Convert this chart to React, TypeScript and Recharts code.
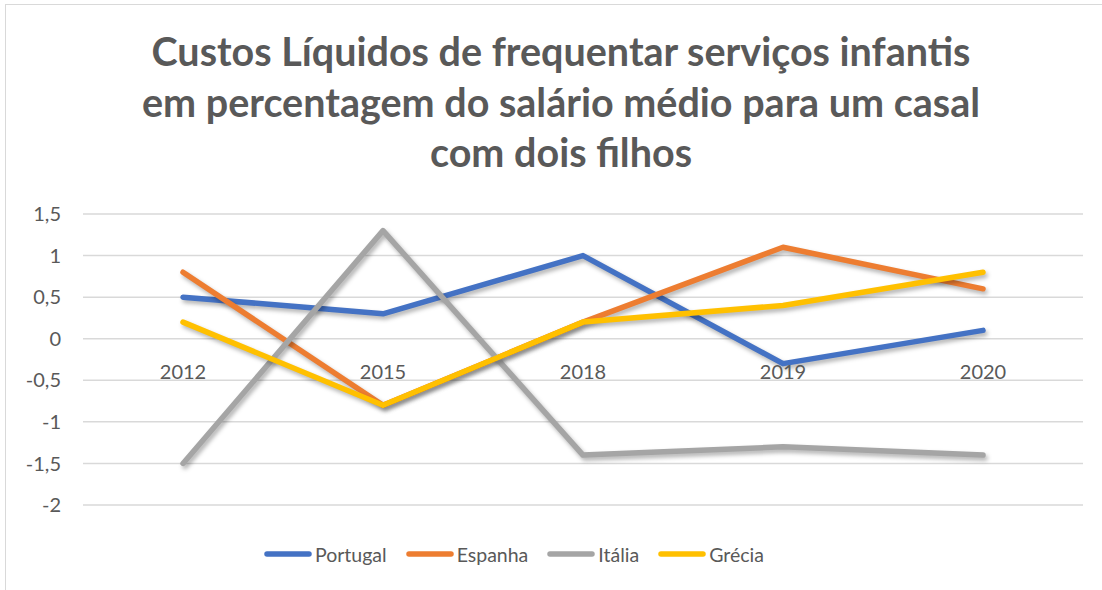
import React from 'react';
import { LineChart, Line, XAxis, YAxis, CartesianGrid } from 'recharts';

const categories = ['2012', '2015', '2018', '2019', '2020'];
const portugal = [0.5, 0.3, 1.0, -0.3, 0.1];
const espanha = [0.8, -0.8, 0.2, 1.1, 0.6];
const italia = [-1.5, 1.3, -1.4, -1.3, -1.4];
const grecia = [0.2, -0.8, 0.2, 0.4, 0.8];
const yTicks = [-2, -1.5, -1, -0.5, 0, 0.5, 1, 1.5];

const series = [
  { key: 'portugal', name: 'Portugal', color: '#4472C4' },
  { key: 'espanha', name: 'Espanha', color: '#ED7D31' },
  { key: 'italia', name: 'Itália', color: '#A5A5A5' },
  { key: 'grecia', name: 'Grécia', color: '#FFC000' },
];

const data = categories.map((year, i) => ({
  year,
  portugal: portugal[i],
  espanha: espanha[i],
  italia: italia[i],
  grecia: grecia[i],
}));

const W = 1102;
const H = 590;
const PLOT_TOP = 214;
const PLOT_BOTTOM = 505;
const PLOT_LEFT = 83;
const PLOT_RIGHT = 1083;
const X_AXIS_H = 30;
const Y_MIN = -2;
const Y_MAX = 1.5;
const TEXT = '#595959';
const FONT = 'Lato, "Open Sans", sans-serif';

// Excel draws the category labels next to the horizontal axis, which crosses at 0
const zeroShift = ((PLOT_BOTTOM - PLOT_TOP) * (0 - Y_MIN)) / (Y_MAX - Y_MIN);

const CategoryTick = ({ x, payload }: any) => (
  <text x={x} y={PLOT_BOTTOM - zeroShift + 32} textAnchor="middle" dominantBaseline="central"
    fill={TEXT} fontSize={20} fontFamily={FONT}>
    {payload.value}
  </text>
);

const LegendRow = () => (
  <div style={{ position: 'absolute', left: 264, top: 541, height: 26, display: 'flex', alignItems: 'center',
    fontFamily: FONT, fontSize: 19.5, color: TEXT, whiteSpace: 'nowrap' }}>
    {series.map((s) => (
      <div key={s.key} style={{ display: 'flex', alignItems: 'center', marginRight: 19 }}>
        <svg width={48} height={10} style={{ marginRight: 3 }}>
          <line x1={3} y1={5} x2={45} y2={5} stroke={s.color} strokeWidth={5.5} strokeLinecap="round" />
        </svg>
        <span>{s.name}</span>
      </div>
    ))}
  </div>
);

export default function App() {
  return (
    <div style={{ position: 'absolute', left: 0, top: 0, width: W, height: H, overflow: 'hidden', background: '#fff' }}>
      <style>{`.recharts-line-curve { filter: drop-shadow(2px 3px 2px rgba(0,0,0,0.3)); }`}</style>
      <div style={{ position: 'absolute', left: 5, top: 4, width: W + 20, height: H + 20, border: '1.5px solid #d9d9d9' }} />
      <div style={{ position: 'absolute', left: 11, top: 26, width: W - 2, textAlign: 'center',
        fontFamily: FONT, fontWeight: 700, fontSize: 39.5, lineHeight: '50.5px', color: TEXT }}>
        Custos Líquidos de frequentar serviços infantis<br />
        em percentagem do salário médio para um casal<br />
        com dois filhos
      </div>
      <div style={{ position: 'absolute', left: 0, top: 0 }}>
        <LineChart width={W} height={H} data={data}
          margin={{ top: PLOT_TOP, right: W - PLOT_RIGHT, bottom: H - PLOT_BOTTOM - X_AXIS_H, left: PLOT_LEFT - 60 }}>
          <CartesianGrid vertical={false} stroke="#d9d9d9" strokeWidth={1.5} />
          <XAxis dataKey="year" axisLine={false} tickLine={false} interval={0}
            padding={{ left: 100, right: 100 }} tick={<CategoryTick />} height={X_AXIS_H} />
          <YAxis width={60} domain={[Y_MIN, Y_MAX]} ticks={yTicks} axisLine={false} tickLine={false}
            tickMargin={16} interval={0}
            tick={{ fill: TEXT, fontSize: 20, fontFamily: FONT }}
            tickFormatter={(v: number) => String(v).replace('.', ',')} />
          {series.map((s) => (
            <Line key={s.key} type="linear" dataKey={s.key} name={s.name} stroke={s.color}
              strokeWidth={5.5} strokeLinecap="round" strokeLinejoin="round" dot={false}
              activeDot={false} isAnimationActive={false} />
          ))}
        </LineChart>
      </div>
      <LegendRow />
    </div>
  );
}
